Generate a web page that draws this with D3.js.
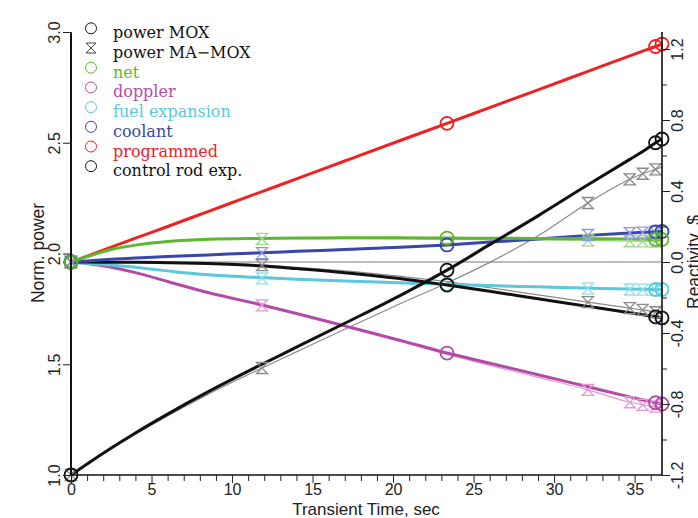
<!DOCTYPE html>
<html><head><meta charset="utf-8">
<script src="https://cdn.jsdelivr.net/npm/d3@7/dist/d3.min.js"></script>
<style>body{margin:0;background:#fff}svg{display:block}</style>
</head><body>
<svg id="c" width="698" height="518"></svg>
<script>
const time = [0, 1, 2.5, 4, 6, 8.5, 11.86, 14, 17, 20.4, 23.35, 26, 29, 32.1, 34.7, 35.5, 36.3, 36.7];
const powerMOX   = [1.0,1.05,1.122,1.19,1.275,1.375,1.5,1.577,1.685,1.809,1.925,2.04,2.17,2.31,2.425,2.46,2.50,2.517];
const powerMAMOX = [1.0,1.048,1.118,1.184,1.267,1.364,1.483,1.556,1.658,1.772,1.867,1.96,2.08,2.228,2.335,2.36,2.38,2.39];
const netMOX     = [0,0.03,0.07,0.095,0.115,0.128,0.133,0.135,0.136,0.136,0.135,0.134,0.133,0.131,0.129,0.128,0.127,0.127];
const netMAMOX   = [0,0.03,0.07,0.095,0.114,0.126,0.13,0.131,0.131,0.13,0.128,0.126,0.124,0.122,0.117,0.116,0.115,0.115];
const dopplerMOX   = [0,-0.008,-0.03,-0.06,-0.11,-0.172,-0.242,-0.29,-0.36,-0.44,-0.513,-0.57,-0.635,-0.703,-0.76,-0.777,-0.793,-0.80];
const dopplerMAMOX = [0,-0.008,-0.03,-0.06,-0.11,-0.172,-0.244,-0.293,-0.365,-0.447,-0.52,-0.582,-0.65,-0.72,-0.79,-0.805,-0.815,-0.82];
const fuelMOX   = [0,-0.007,-0.017,-0.03,-0.05,-0.072,-0.088,-0.097,-0.107,-0.117,-0.126,-0.133,-0.14,-0.147,-0.152,-0.153,-0.155,-0.155];
const fuelMAMOX = [0,-0.007,-0.018,-0.031,-0.052,-0.075,-0.092,-0.1,-0.11,-0.12,-0.129,-0.136,-0.143,-0.15,-0.155,-0.156,-0.157,-0.157];
const coolantMOX   = [0,0.006,0.015,0.022,0.031,0.04,0.052,0.06,0.07,0.083,0.096,0.112,0.13,0.15,0.163,0.167,0.17,0.172];
const coolantMAMOX = [0,0.006,0.015,0.022,0.03,0.039,0.05,0.058,0.068,0.081,0.095,0.111,0.13,0.152,0.163,0.166,0.169,0.171];
const programmedMOX = [0,0.033,0.084,0.134,0.2,0.284,0.397,0.468,0.569,0.683,0.781,0.87,0.97,1.074,1.161,1.188,1.214,1.228];
const rodMOX   = [0,0,-0.001,-0.002,-0.004,-0.009,-0.022,-0.037,-0.06,-0.093,-0.13,-0.165,-0.207,-0.25,-0.286,-0.297,-0.309,-0.315];
const rodMAMOX = [0,0,-0.001,-0.002,-0.004,-0.008,-0.018,-0.03,-0.05,-0.08,-0.11,-0.145,-0.185,-0.226,-0.26,-0.27,-0.283,-0.29];
const circleIdx = [0, 10, 16, 17];
const hourIdx = [0, 6, 13, 14, 15, 16];

const leftTicks = [1.0, 1.5, 2.0, 2.5, 3.0];
const rightTicks = [-1.2, -0.8, -0.4, 0.0, 0.4, 0.8, 1.2];
const bottomTicks = [0, 5, 10, 15, 20, 25, 30, 35];
const legendLabels = ["power MOX","power MA\u2212MOX","net","doppler","fuel expansion","coolant","programmed","control rod exp."];

const C = {black:"#111", red:"#ee2222", green:"#5cb82e", magenta:"#b44aa8", cyan:"#5cc8dc", blue:"#3a46a8"};
const L = {black:"#8a8a8a", green:"#9ed88a", magenta:"#dc9bd2", cyan:"#98dcea", blue:"#8f9ad8"};

const svg = d3.select("#c");
const x = d3.scaleLinear().domain([0, 36.7]).range([71, 662]);
const yL = d3.scaleLinear().domain([1, 3]).range([475, 32]);
const yR = d3.scaleLinear().domain([-1.2, 1.2]).range([475, 49]);

const series = [
  {v: powerMAMOX, y: yL, color: L.black, w: 1.2, ma: true},
  {v: netMAMOX, y: yR, color: L.green, w: 1.2, ma: true},
  {v: dopplerMAMOX, y: yR, color: L.magenta, w: 1.2, ma: true},
  {v: fuelMAMOX, y: yR, color: L.cyan, w: 1.2, ma: true},
  {v: coolantMAMOX, y: yR, color: L.blue, w: 1.2, ma: true},
  {v: rodMAMOX, y: yR, color: L.black, w: 1.2, ma: true},
  {v: programmedMOX, y: yR, color: C.red, w: 3, ma: false},
  {v: dopplerMOX, y: yR, color: C.magenta, w: 3, ma: false},
  {v: fuelMOX, y: yR, color: C.cyan, w: 3, ma: false},
  {v: rodMOX, y: yR, color: C.black, w: 3, ma: false},
  {v: coolantMOX, y: yR, color: C.blue, w: 3, ma: false},
  {v: netMOX, y: yR, color: C.green, w: 3, ma: false},
  {v: powerMOX, y: yL, color: C.black, w: 3, ma: false}
];

svg.append("line").attr("x1", x(0)).attr("x2", x(36.7)).attr("y1", yR(0)).attr("y2", yR(0))
  .attr("stroke", "#777").attr("stroke-width", 1);

const hourglass = s => `M${-s},${-s}L${s},${-s}L${-s},${s}L${s},${s}Z`;

series.forEach(s => {
  const line = d3.line().x((d,i) => x(time[i])).y(d => s.y(d)).curve(d3.curveMonotoneX);
  svg.append("path").attr("d", line(s.v)).attr("fill", "none")
    .attr("stroke", s.color).attr("stroke-width", s.w).attr("stroke-linejoin", "round");
});
series.forEach(s => {
  if (s.ma) {
    svg.selectAll(null).data(hourIdx).enter().append("path")
      .attr("transform", i => `translate(${x(time[i])},${s.y(s.v[i])})`)
      .attr("d", hourglass(5.5)).attr("fill", "none").attr("stroke", s.color).attr("stroke-width", 1.3);
  } else {
    svg.selectAll(null).data(circleIdx).enter().append("circle")
      .attr("cx", i => x(time[i])).attr("cy", i => s.y(s.v[i])).attr("r", 6.5)
      .attr("fill", "none").attr("stroke", s.color).attr("stroke-width", 1.8);
  }
});

const font = "'Liberation Sans', Arial, sans-serif";
const fmt = d => d.toFixed(1);
const axL = svg.append("g").attr("transform", `translate(${x(0)},0)`)
  .call(d3.axisLeft(yL).tickValues(leftTicks).tickFormat(fmt).tickSize(8).tickPadding(8));
axL.select(".domain").attr("d", `M0,${yL(3)}V${yL(1)}`).attr("stroke-width", 2);
axL.selectAll(".tick text").attr("transform", "rotate(-90)").attr("x", 0).attr("y", -11)
  .attr("dy", 0).attr("text-anchor", "middle").attr("font-size", 16).attr("font-family", font).attr("fill", "#222");

const axR = svg.append("g").attr("transform", `translate(${x(36.7)},0)`)
  .call(d3.axisRight(yR).tickValues(d3.range(-1.2, 1.21, 0.2).map(v => +v.toFixed(1))).tickSize(8)
    .tickFormat(d => rightTicks.some(t => Math.abs(t - d) < 1e-6) ? fmt(d) : ""));
axR.select(".domain").attr("d", `M0,32V475`).attr("stroke-width", 1.6);
axR.selectAll(".tick line").attr("x2", d => rightTicks.some(t => Math.abs(t - d) < 1e-6) ? 8 : 5);
axR.selectAll(".tick text").attr("transform", "rotate(-90)").attr("x", 0).attr("y", 21)
  .attr("dy", 0).attr("text-anchor", "middle").attr("font-size", 16).attr("font-family", font).attr("fill", "#222");

const axB = svg.append("g").attr("transform", `translate(0,${yL(1)})`)
  .call(d3.axisBottom(x).tickValues(d3.range(0, 37, 1)).tickSize(6)
    .tickFormat(d => bottomTicks.includes(d) ? String(d) : ""));
axB.select(".domain").attr("d", `M${x(0)},0H${x(36.7)}`).attr("stroke-width", 1.6);
axB.selectAll(".tick line").attr("y2", d => bottomTicks.includes(d) ? 8 : 6);
axB.selectAll(".tick text").attr("y", 20).attr("dy", 0).attr("font-size", 16).attr("font-family", font).attr("fill", "#222");
svg.selectAll(".tick line").attr("stroke", "#222");
svg.selectAll(".domain").attr("stroke", "#111");

svg.append("text").attr("x", 366).attr("y", 515).attr("text-anchor", "middle")
  .attr("font-size", 17).attr("font-family", font).attr("fill", "#222").text("Transient Time, sec");
svg.append("text").attr("transform", "translate(44,253) rotate(-90)").attr("text-anchor", "middle")
  .attr("font-size", 17.5).attr("font-family", font).attr("fill", "#222").text("Norm. power");
svg.append("text").attr("transform", "translate(700,262) rotate(-90)").attr("text-anchor", "middle")
  .attr("font-size", 17.5).attr("font-family", font).attr("fill", "#222").text("Reactivity, $");

const legColors = [C.black, C.black, C.green, C.magenta, C.cyan, C.blue, C.red, C.black];
const legText = ["#111", "#111", C.green, C.magenta, C.cyan, C.blue, C.red, "#111"];
const leg = svg.append("g");
legendLabels.forEach((lab, i) => {
  const cy = 28.3 + i * 19.7;
  if (i === 1) {
    leg.append("path").attr("transform", `translate(91,${cy})`).attr("d", hourglass(5))
      .attr("fill", "none").attr("stroke", "#444").attr("stroke-width", 1);
  } else {
    leg.append("circle").attr("cx", 91).attr("cy", cy).attr("r", 5.5)
      .attr("fill", "none").attr("stroke", legColors[i]).attr("stroke-width", 1);
  }
  leg.append("text").attr("x", 113).attr("y", cy + 10).attr("font-size", 16)
    .attr("font-family", "'DejaVu Serif', serif").attr("fill", legText[i]).text(lab);
});
</script>
</body></html>
